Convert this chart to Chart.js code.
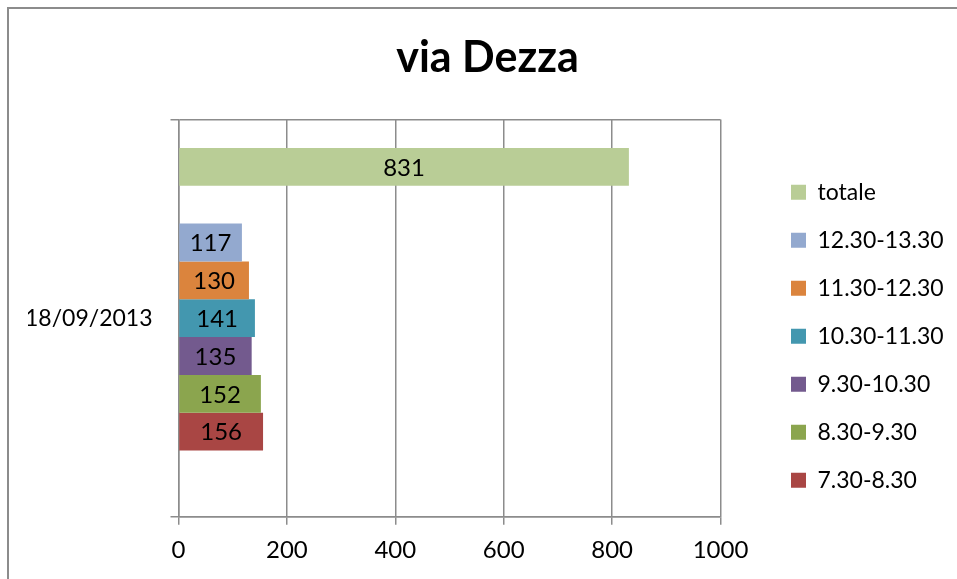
<!DOCTYPE html>
<html>
<head>
<meta charset="utf-8">
<title>via Dezza</title>
<script src="https://cdn.jsdelivr.net/npm/chart.js@4/dist/chart.umd.min.js"></script>
<style>
  html, body { margin: 0; padding: 0; background: #fff; }
  #wrap { position: relative; width: 957px; height: 579px; overflow: hidden; }
  #frame { position: absolute; left: 7px; top: 7px; right: -10px; bottom: -10px;
           border-left: 2px solid #8c8c8c; border-top: 2px solid #8c8c8c; pointer-events: none; }
  canvas { position: absolute; left: 0; top: 0; }
</style>
</head>
<body>
<div id="wrap">
  <canvas id="chart" width="957" height="579"></canvas>
  <div id="frame"></div>
</div>
<script>
// data (blank series keep Excel's empty slots)
const categories = ['18/09/2013'];
const seriesNames = ['totale', '', '12.30-13.30', '11.30-12.30', '10.30-11.30', '9.30-10.30', '8.30-9.30', '7.30-8.30', ''];
const seriesValues = [831, null, 117, 130, 141, 135, 152, 156, null];
const seriesColors = ['#b9cd96', '#ffffff', '#93a9cf', '#db843d', '#4397af', '#735a8e', '#8ba54e', '#a94644', '#ffffff'];
const xMin = 0;
const xMax = 1000;
const xStep = 200;

const gridColor = '#8c8c8c';

// draws the value in the middle of each bar
const barValues = {
  id: 'barValues',
  afterDatasetsDraw(chart) {
    const ctx = chart.ctx;
    ctx.save();
    ctx.font = '24px Lato, sans-serif';
    ctx.fillStyle = '#000';
    ctx.textAlign = 'center';
    ctx.textBaseline = 'middle';
    chart.getSortedVisibleDatasetMetas().forEach(meta => {
      meta.data.forEach((bar, i) => {
        const v = chart.data.datasets[meta.index].data[i];
        if (v === null || v === undefined) return;
        const p = bar.getProps(['x', 'y', 'base'], true);
        ctx.fillText(String(v), (p.x + p.base) / 2, p.y + 1);
      });
    });
    ctx.restore();
  }
};

Chart.defaults.font.family = 'Lato, sans-serif';
Chart.defaults.color = '#000';

new Chart(document.getElementById('chart'), {
  type: 'bar',
  data: {
    labels: categories,
    datasets: seriesNames.map((name, i) => ({
      label: name,
      data: [seriesValues[i]],
      backgroundColor: seriesColors[i],
      borderWidth: 0,
      categoryPercentage: 9 / 10.5,
      barPercentage: 1
    }))
  },
  options: {
    indexAxis: 'y',
    responsive: false,
    animation: false,
    devicePixelRatio: 1,
    layout: { padding: { top: 0, left: 28, right: 10, bottom: 0 } },
    plugins: {
      title: {
        display: true,
        text: 'via Dezza',
        font: { size: 43, weight: 'bold', lineHeight: 1.2 },
        padding: { top: 32, bottom: 36 }
      },
      legend: {
        position: 'right',
        align: 'end',
        fullSize: false,
        maxWidth: 181,
        labels: {
          boxWidth: 15,
          boxHeight: 15,
          padding: 25,
          font: { size: 23 },
          filter: item => item.text !== ''
        }
      },
      tooltip: { enabled: false }
    },
    scales: {
      x: {
        min: xMin,
        max: xMax,
        ticks: { stepSize: xStep, font: { size: 24 }, padding: 11, callback: v => String(v) },
        grid: { color: gridColor, lineWidth: 1.5, tickLength: 8 },
        border: { color: gridColor, width: 1.5 },
        afterFit: s => { s.height = 62.3; }
      },
      y: {
        ticks: { font: { size: 23 }, padding: 18 },
        grid: { color: gridColor, lineWidth: 1.5, tickLength: 8, offset: true },
        border: { color: gridColor, width: 1.5 },
        afterFit: s => { s.width = 150.5; }
      },
      // empty axis that only keeps the gap between the plot and the legend
      spacer: {
        type: 'linear',
        position: 'right',
        display: true,
        grid: { display: false, drawTicks: false },
        ticks: { display: false },
        border: { display: false },
        afterFit: s => { s.width = 45.5; }
      }
    }
  },
  plugins: [barValues]
});
</script>
</body>
</html>
